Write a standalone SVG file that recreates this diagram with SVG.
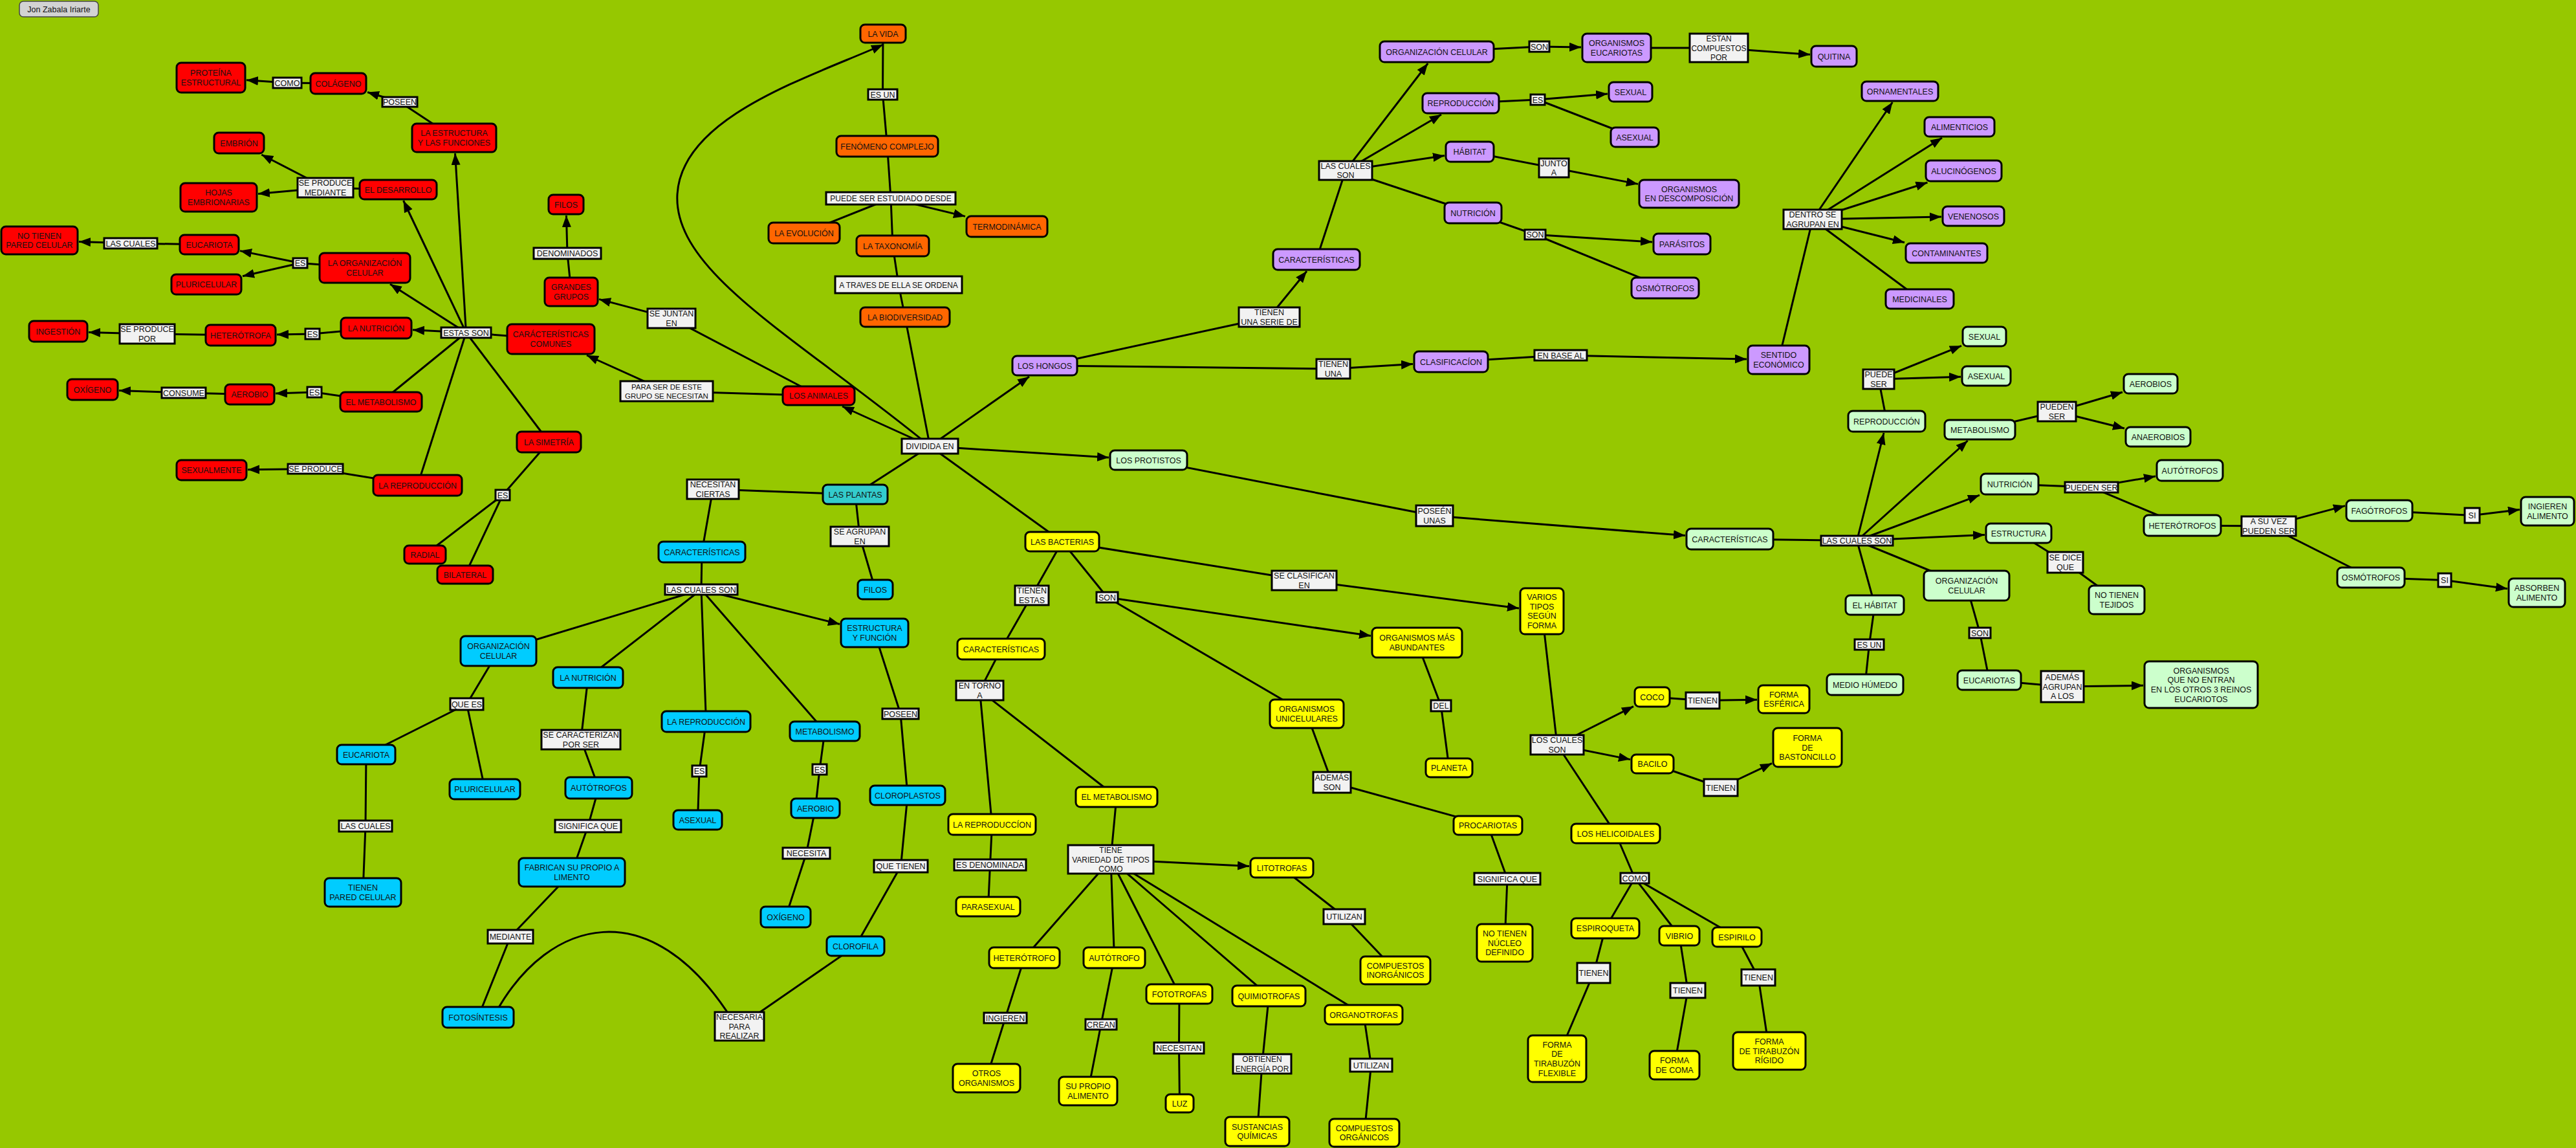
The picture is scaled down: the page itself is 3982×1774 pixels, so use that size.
<svg xmlns="http://www.w3.org/2000/svg" width="3982" height="1774" viewBox="0 0 3982 1774">
<style>
text{font-family:"Liberation Sans",Arial,sans-serif;font-size:12.5px;text-anchor:middle;fill:#111}
.n rect{rx:7px;ry:7px;stroke:#000;stroke-width:3}
.r rect{fill:#FF0000}
.o rect{fill:#FF6600}
.p rect{fill:#CC99FF}
.g rect{fill:#CCFFCC}
.t rect{fill:#33CCCC}
.b rect{fill:#00CCFF}
.y rect{fill:#FFFF00}
.l rect{fill:#F2F2F2;stroke:#000;stroke-width:3}
.a rect{fill:#D3D3D3;stroke:#444;stroke-width:1.5;rx:6px;ry:6px}
.e{fill:none;stroke:#000;stroke-width:3;stroke-linejoin:round}
.ea{fill:none;stroke:#000;stroke-width:3;stroke-linejoin:round;marker-end:url(#ah)}
.s12{font-size:12px}
.s11{font-size:11.5px}
</style>
<defs>
<marker id="ah" markerUnits="userSpaceOnUse" markerWidth="20" markerHeight="16" refX="18" refY="7" orient="auto"><path d="M0,0 L18,7 L0,14 z" fill="#000"/></marker>
</defs>
<rect x="0" y="0" width="3982" height="1774" fill="#96C800"/>

<g id="connectors">
<!-- animals -->
<path class="ea" d="M702,213 L618,157.5 L568,142.5"/>
<path class="ea" d="M523,129 L444,128 L381,123.7"/>
<path class="ea" d="M720.5,514 L703.5,237"/>
<path class="ea" d="M720.5,514 L623.6,310"/>
<path class="ea" d="M720.5,514 L603,439"/>
<path class="ea" d="M720.5,514 L638,509.8"/>
<path class="e" d="M851.5,524 L720.5,514"/>
<path class="e" d="M720.5,514 L589,621"/>
<path class="e" d="M720.5,514 L645.5,750"/>
<path class="e" d="M720.5,514 L848.5,683"/>
<path class="e" d="M848.5,683 L777,765 L657,857 M777,765 L719,888"/>
<path class="e" d="M615.5,293 L503,290"/>
<path class="ea" d="M503,290 L404.3,239"/>
<path class="ea" d="M503,290 L399,299.5"/>
<path class="e" d="M564,414 L464,406.5"/>
<path class="ea" d="M464,406.5 L371,387.6"/>
<path class="ea" d="M464,406.5 L375,426.8"/>
<path class="ea" d="M323.5,378 L202,376 L122,373.5"/>
<path class="ea" d="M581.5,507 L483,516 L428,517"/>
<path class="ea" d="M372,518 L227.5,516 L137,513.4"/>
<path class="ea" d="M589,621 L486,606 L426,608.1"/>
<path class="ea" d="M386,609.5 L284,607 L184,603.5"/>
<path class="ea" d="M645.5,750 L487.5,724.5 L383,725.8"/>
<path class="ea" d="M1265.5,611.5 L1030,604.5 L907,549"/>
<path class="ea" d="M1265.5,611.5 L1038,492 L926,462.4"/>
<path class="ea" d="M883,451 L877,391.5 L875.4,333"/>
<!-- life -->
<path class="e" d="M1365,52 L1364.5,146 L1371.5,226 L1377,306.5 L1380,380 L1389,440 L1399,490 L1437.5,689.5"/>
<path class="e" d="M1377,306.5 L1243,360"/>
<path class="ea" d="M1377,306.5 L1492,334.4"/>
<path class="ea" d="M1437,689 C1230,520 1040,420 1047,300 C1054,180 1250,120 1365,69"/>
<path class="ea" d="M1437.5,689.5 L1302,628"/>
<path class="ea" d="M1437.5,689.5 L1591,582"/>
<path class="ea" d="M1437.5,689.5 L1714,707.1"/>
<path class="e" d="M1437.5,689.5 L1322,764"/>
<path class="e" d="M1437.5,689.5 L1642,837"/>
<!-- fungi -->
<path class="ea" d="M1615,565 L1962,490 L2020,419"/>
<path class="ea" d="M1615,565 L2061,570 L2184,562.6"/>
<path class="ea" d="M2243,559 L2412.5,549 L2700,555"/>
<path class="e" d="M2749.5,556 L2802,339"/>
<path class="ea" d="M2802,339 L2925.4,158"/>
<path class="ea" d="M2802,339 L3002,213"/>
<path class="ea" d="M2802,339 L2979.5,282"/>
<path class="ea" d="M2802,339 L3001,335"/>
<path class="ea" d="M2802,339 L2944,374.7"/>
<path class="e" d="M2802,339 L2967.5,462"/>
<path class="e" d="M2035,401 L2080,263.5"/>
<path class="ea" d="M2080,263.5 L2207.2,98"/>
<path class="ea" d="M2080,263.5 L2228,177"/>
<path class="ea" d="M2080,263.5 L2233,240.4"/>
<path class="e" d="M2080,263.5 L2277,329"/>
<path class="ea" d="M2221,80 L2379.5,72 L2444,73"/>
<path class="ea" d="M2499,74 L2657,74 L2798,84.3"/>
<path class="ea" d="M2258,159.5 L2377,154 L2485,145"/>
<path class="e" d="M2377,154 L2527,212"/>
<path class="ea" d="M2272,234.5 L2402,259.5 L2532,284.4"/>
<path class="ea" d="M2277,329 L2373,362.5 L2554,374"/>
<path class="e" d="M2373,362.5 L2574,445"/>
<!-- protists -->
<path class="ea" d="M1775.5,711 L2217.5,797 L2605,827.6"/>
<path class="e" d="M2674,833 L2870.5,835.5"/>
<path class="ea" d="M2870.5,835.5 L2912,669"/>
<path class="e" d="M2916.5,651 L2904,586"/>
<path class="ea" d="M2904,586 L3032,534.3"/>
<path class="ea" d="M2904,586 L3031,582.2"/>
<path class="ea" d="M2870.5,835.5 L3041.7,681"/>
<path class="e" d="M3060.5,664 L3179.5,636"/>
<path class="ea" d="M3179.5,636 L3281,606"/>
<path class="ea" d="M3179.5,636 L3284,662"/>
<path class="ea" d="M2870.5,835.5 L3060,765.2"/>
<path class="e" d="M3106.5,748 L3233,753"/>
<path class="ea" d="M3233,753 L3332,736"/>
<path class="e" d="M3233,753 L3373.5,812"/>
<path class="e" d="M3373.5,812 L3507,813"/>
<path class="ea" d="M3507,813 L3625,781.6"/>
<path class="e" d="M3507,813 L3665,892.5"/>
<path class="ea" d="M3678,789 L3821.5,796.5 L3895,787.6"/>
<path class="ea" d="M3665,892.5 L3779,896.5 L3876,909.8"/>
<path class="ea" d="M2870.5,835.5 L3068,826.4"/>
<path class="e" d="M3120.5,824 L3192.5,869 L3272,927"/>
<path class="e" d="M2870.5,835.5 L3040,905"/>
<path class="e" d="M3040,905 L3060.5,978 L3075,1051"/>
<path class="ea" d="M3075,1051 L3188,1061 L3313,1059.3"/>
<path class="e" d="M2870.5,835.5 L2898,935 L2889.5,996 L2883,1058"/>
<!-- plants -->
<path class="e" d="M1322,764 L1102,756 L1085,853"/>
<path class="e" d="M1322,764 L1329,829 L1353,911"/>
<path class="e" d="M1085,853 L1084,911"/>
<path class="e" d="M1084,911 L770.5,1006 M1084,911 L909,1047 M1084,911 L1091.5,1115 M1084,911 L1275,1130"/>
<path class="ea" d="M1084,911 L1298,964.5"/>
<path class="e" d="M1352,978 L1392,1103 L1403,1229 L1392.5,1338.5 L1322.5,1462 L1143,1586"/>
<path class="e" d="M1132,1576 C1005,1375 848,1420 768,1562"/>
<path class="e" d="M909,1047 L898,1143 L925.5,1217.5 L909,1276.5 L884,1348 L789,1447.5 L739,1572"/>
<path class="e" d="M770.5,1006 L721.5,1088 L566,1166 L565,1276.5 L561,1379 M721.5,1088 L749.5,1219.5"/>
<path class="e" d="M1091.5,1115 L1081,1191.5 L1078.5,1267"/>
<path class="e" d="M1275,1130 L1267,1189 L1260.5,1249 L1246.5,1318.5 L1214.5,1417"/>
<!-- bacteria -->
<path class="e" d="M1642,837 L1595,920 L1547.5,1003 L1514.5,1067 L1533.5,1274 L1530.5,1336.5 L1527.5,1401"/>
<path class="e" d="M1514.5,1067 L1726,1231.5 L1717,1328"/>
<path class="ea" d="M1717,1328 L1931,1338.5"/>
<path class="e" d="M1717,1328 L1583.5,1480 L1554,1573 L1525,1666"/>
<path class="e" d="M1717,1328 L1722.5,1480 L1702,1583 L1682,1686"/>
<path class="e" d="M1717,1328 L1823,1536 L1822.5,1619.5 L1823.5,1705"/>
<path class="e" d="M1717,1328 L1961.5,1539 L1951,1644 L1943.5,1748.5"/>
<path class="e" d="M1717,1328 L2108,1568 L2119.5,1646 L2109,1750.5"/>
<path class="e" d="M1981.5,1341 L2078,1416.5 L2157,1499.5"/>
<path class="e" d="M1642,837 L1711.5,923"/>
<path class="ea" d="M1711.5,923 L2119,982.6"/>
<path class="e" d="M1711.5,923 L2020,1103 L2059,1209 L2300,1275.5 L2330,1358 L2326,1457"/>
<path class="e" d="M2190.5,993 L2227.5,1090.5 L2240,1186.5"/>
<path class="ea" d="M1642,837 L2016,897 L2348,940"/>
<path class="e" d="M2383.5,944.5 L2407,1151"/>
<path class="ea" d="M2407,1151 L2525,1091.6"/>
<path class="ea" d="M2554,1077 L2632,1082.5 L2716,1081.2"/>
<path class="ea" d="M2407,1151 L2520,1173.6"/>
<path class="ea" d="M2554.5,1180.5 L2660,1217 L2739,1179.6"/>
<path class="e" d="M2407,1151 L2497.5,1288 L2527,1357"/>
<path class="e" d="M2527,1357 L2481.5,1434.5 L2463.5,1503.5 L2407,1636"/>
<path class="e" d="M2527,1357 L2596,1446 L2609,1530.5 L2588.5,1646"/>
<path class="e" d="M2527,1357 L2685,1448 L2718,1510.5 L2735,1624"/>
</g>

<g id="author" class="a"><rect x="30" y="2" width="122" height="24"/><text x="91" y="18.6">Jon Zabala Iriarte</text></g>

<!-- red: animals -->
<g id="n_proteina" class="n r"><rect x="273" y="97" width="106" height="46"/><text x="326" y="117.3">PROTEÍNA<tspan x="326" dy="14.6">ESTRUCTURAL</tspan></text></g>
<g id="n_colageno" class="n r"><rect x="480" y="113" width="86" height="32"/><text x="523" y="133.6">COLÁGENO</text></g>
<g id="n_estructura" class="n r"><rect x="637" y="191" width="130" height="44"/><text x="702" y="210.3">LA ESTRUCTURA<tspan x="702" dy="14.6">Y LAS FUNCIONES</tspan></text></g>
<g id="n_embrion" class="n r"><rect x="331" y="205" width="77" height="32"/><text x="369.5" y="225.6">EMBRIÓN</text></g>
<g id="n_desarrollo" class="n r"><rect x="556" y="278" width="119" height="30"/><text x="615.5" y="297.6">EL DESARROLLO</text></g>
<g id="n_hojas" class="n r"><rect x="279" y="283" width="118" height="44"/><text x="338" y="302.3">HOJAS<tspan x="338" dy="14.6">EMBRIONARIAS</tspan></text></g>
<g id="n_nopared" class="n r"><rect x="2" y="350" width="118" height="43"/><text x="61" y="368.8">NO TIENEN<tspan x="61" dy="14.6">PARED CELULAR</tspan></text></g>
<g id="n_eucariota_a" class="n r"><rect x="278" y="363" width="91" height="30"/><text x="323.5" y="382.6">EUCARIOTA</text></g>
<g id="n_orgcel_a" class="n r"><rect x="494" y="391" width="140" height="46"/><text x="564" y="411.3">LA ORGANIZACIÓN<tspan x="564" dy="14.6">CELULAR</tspan></text></g>
<g id="n_pluri_a" class="n r"><rect x="265" y="424" width="108" height="31"/><text x="319" y="444.1">PLURICELULAR</text></g>
<g id="n_filos_a" class="n r"><rect x="848" y="301" width="54" height="30"/><text x="875" y="320.6">FILOS</text></g>
<g id="n_grandes" class="n r"><rect x="842" y="429" width="82" height="44"/><text x="883" y="448.3">GRANDES<tspan x="883" dy="14.6">GRUPOS</tspan></text></g>
<g id="n_ingestion" class="n r"><rect x="45" y="496" width="90" height="32"/><text x="90" y="516.6">INGESTIÓN</text></g>
<g id="n_heterotrofa" class="n r"><rect x="318" y="502" width="108" height="32"/><text x="372" y="522.6">HETERÓTROFA</text></g>
<g id="n_nutricion_a" class="n r"><rect x="527" y="491" width="109" height="32"/><text x="581.5" y="511.6">LA NUTRICIÓN</text></g>
<g id="n_caractcom" class="n r"><rect x="784" y="501" width="135" height="46"/><text x="851.5" y="521.3">CARÁCTERÍSTICAS<tspan x="851.5" dy="14.6">COMUNES</tspan></text></g>
<g id="n_oxigeno_a" class="n r"><rect x="104" y="586" width="78" height="32"/><text x="143" y="606.6">OXÍGENO</text></g>
<g id="n_aerobio_a" class="n r"><rect x="348" y="594" width="76" height="31"/><text x="386" y="614.1">AEROBIO</text></g>
<g id="n_metab_a" class="n r"><rect x="526" y="606" width="126" height="30"/><text x="589" y="625.6">EL METABOLISMO</text></g>
<g id="n_simetria" class="n r"><rect x="799" y="667" width="99" height="32"/><text x="848.5" y="687.6">LA SIMETRÍA</text></g>
<g id="n_sexualmente" class="n r"><rect x="273" y="711" width="108" height="31"/><text x="327" y="731.1">SEXUALMENTE</text></g>
<g id="n_repro_a" class="n r"><rect x="577" y="734" width="137" height="32"/><text x="645.5" y="754.6">LA REPRODUCCIÓN</text></g>
<g id="n_radial" class="n r"><rect x="625" y="843" width="64" height="28"/><text x="657" y="861.6">RADIAL</text></g>
<g id="n_bilateral" class="n r"><rect x="676" y="874" width="86" height="28"/><text x="719" y="892.6">BILATERAL</text></g>
<g id="n_animales" class="n r"><rect x="1210" y="597" width="111" height="29"/><text x="1265.5" y="616.1">LOS ANIMALES</text></g>

<!-- orange -->
<g id="n_vida" class="n o"><rect x="1330" y="38" width="70" height="28"/><text x="1365" y="56.6">LA VIDA</text></g>
<g id="n_fenomeno" class="n o"><rect x="1293" y="210" width="157" height="32"/><text x="1371.5" y="230.6">FENÓMENO COMPLEJO</text></g>
<g id="n_evolucion" class="n o"><rect x="1188" y="344" width="110" height="32"/><text x="1243" y="364.6">LA EVOLUCIÓN</text></g>
<g id="n_termo" class="n o"><rect x="1494" y="334" width="125" height="32"/><text x="1556.5" y="354.6">TERMODINÁMICA</text></g>
<g id="n_taxonomia" class="n o"><rect x="1324" y="364" width="112" height="32"/><text x="1380" y="384.6">LA TAXONOMÍA</text></g>
<g id="n_biodiv" class="n o"><rect x="1330" y="475" width="138" height="30"/><text x="1399" y="494.6">LA BIODIVERSIDAD</text></g>

<!-- purple: fungi -->
<g id="n_hongos" class="n p"><rect x="1565" y="550" width="100" height="30"/><text x="1615" y="569.6">LOS HONGOS</text></g>
<g id="n_caract_h" class="n p"><rect x="1968" y="385" width="134" height="32"/><text x="2035" y="405.6">CARACTERÍSTICAS</text></g>
<g id="n_orgcel_h" class="n p"><rect x="2133" y="64" width="176" height="32"/><text x="2221" y="84.6">ORGANIZACIÓN CELULAR</text></g>
<g id="n_orgeuc_h" class="n p"><rect x="2446" y="52" width="106" height="44"/><text x="2499" y="71.3">ORGANISMOS<tspan x="2499" dy="14.6">EUCARIOTAS</tspan></text></g>
<g id="n_quitina" class="n p"><rect x="2800" y="71" width="70" height="32"/><text x="2835" y="91.6">QUITINA</text></g>
<g id="n_repro_h" class="n p"><rect x="2199" y="144" width="118" height="31"/><text x="2258" y="164.1">REPRODUCCIÓN</text></g>
<g id="n_sexual_h" class="n p"><rect x="2487" y="127" width="67" height="30"/><text x="2520.5" y="146.6">SEXUAL</text></g>
<g id="n_asexual_h" class="n p"><rect x="2490" y="197" width="74" height="30"/><text x="2527" y="216.6">ASEXUAL</text></g>
<g id="n_habitat_h" class="n p"><rect x="2235" y="219" width="74" height="31"/><text x="2272" y="239.1">HÁBITAT</text></g>
<g id="n_descomp" class="n p"><rect x="2534" y="278" width="154" height="43"/><text x="2611" y="296.8">ORGANISMOS<tspan x="2611" dy="14.6">EN DESCOMPOSICIÓN</tspan></text></g>
<g id="n_nutri_h" class="n p"><rect x="2233" y="313" width="88" height="32"/><text x="2277" y="333.6">NUTRICIÓN</text></g>
<g id="n_parasitos" class="n p"><rect x="2556" y="361" width="88" height="32"/><text x="2600" y="381.6">PARÁSITOS</text></g>
<g id="n_osmo_h" class="n p"><rect x="2522" y="429" width="104" height="32"/><text x="2574" y="449.6">OSMÓTROFOS</text></g>
<g id="n_ornam" class="n p"><rect x="2878" y="126" width="118" height="30"/><text x="2937" y="145.6">ORNAMENTALES</text></g>
<g id="n_alimen" class="n p"><rect x="2975" y="181" width="108" height="30"/><text x="3029" y="200.6">ALIMENTICIOS</text></g>
<g id="n_aluci" class="n p"><rect x="2977" y="248" width="117" height="32"/><text x="3035.5" y="268.6">ALUCINÓGENOS</text></g>
<g id="n_veneno" class="n p"><rect x="3003" y="319" width="95" height="30"/><text x="3050.5" y="338.6">VENENOSOS</text></g>
<g id="n_contam" class="n p"><rect x="2946" y="376" width="126" height="30"/><text x="3009" y="395.6">CONTAMINANTES</text></g>
<g id="n_medic" class="n p"><rect x="2915" y="447" width="105" height="30"/><text x="2967.5" y="466.6">MEDICINALES</text></g>
<g id="n_clasif" class="n p"><rect x="2186" y="543" width="114" height="32"/><text x="2243" y="563.6">CLASIFICACÍON</text></g>
<g id="n_sentido" class="n p"><rect x="2702" y="534" width="95" height="44"/><text x="2749.5" y="553.3">SENTIDO<tspan x="2749.5" dy="14.6">ECONÓMICO</tspan></text></g>

<!-- light green: protists -->
<g id="n_protistos" class="n g"><rect x="1716" y="696" width="119" height="30"/><text x="1775.5" y="715.6">LOS PROTISTOS</text></g>
<g id="n_sexual_p" class="n g"><rect x="3034" y="505" width="67" height="30"/><text x="3067.5" y="524.6">SEXUAL</text></g>
<g id="n_asexual_p" class="n g"><rect x="3033" y="566" width="75" height="30"/><text x="3070.5" y="585.6">ASEXUAL</text></g>
<g id="n_repro_p" class="n g"><rect x="2857" y="635" width="119" height="32"/><text x="2916.5" y="655.6">REPRODUCCIÓN</text></g>
<g id="n_aerobios" class="n g"><rect x="3283" y="578" width="83" height="30"/><text x="3324.5" y="597.6">AEROBIOS</text></g>
<g id="n_metab_p" class="n g"><rect x="3006" y="649" width="109" height="30"/><text x="3060.5" y="668.6">METABOLISMO</text></g>
<g id="n_anaerobios" class="n g"><rect x="3286" y="660" width="100" height="30"/><text x="3336" y="679.6">ANAEROBIOS</text></g>
<g id="n_autotrofos_p" class="n g"><rect x="3334" y="711" width="102" height="32"/><text x="3385" y="731.6">AUTÓTROFOS</text></g>
<g id="n_nutri_p" class="n g"><rect x="3062" y="732" width="89" height="32"/><text x="3106.5" y="752.6">NUTRICIÓN</text></g>
<g id="n_hetero_p" class="n g"><rect x="3314" y="796" width="119" height="32"/><text x="3373.5" y="816.6">HETERÓTROFOS</text></g>
<g id="n_fago" class="n g"><rect x="3627" y="773" width="102" height="32"/><text x="3678" y="793.6">FAGÓTROFOS</text></g>
<g id="n_ingieren" class="n g"><rect x="3897" y="768" width="82" height="44"/><text x="3938" y="787.3">INGIEREN<tspan x="3938" dy="14.6">ALIMENTO</tspan></text></g>
<g id="n_caract_p" class="n g"><rect x="2607" y="817" width="134" height="32"/><text x="2674" y="837.6">CARACTERÍSTICAS</text></g>
<g id="n_estruct_p" class="n g"><rect x="3070" y="809" width="101" height="30"/><text x="3120.5" y="828.6">ESTRUCTURA</text></g>
<g id="n_osmo_p" class="n g"><rect x="3613" y="877" width="104" height="31"/><text x="3665" y="897.1">OSMÓTROFOS</text></g>
<g id="n_absorben" class="n g"><rect x="3878" y="894" width="87" height="44"/><text x="3921.5" y="913.3">ABSORBEN<tspan x="3921.5" dy="14.6">ALIMENTO</tspan></text></g>
<g id="n_orgcel_p" class="n g"><rect x="2974" y="882" width="132" height="46"/><text x="3040" y="902.3">ORGANIZACIÓN<tspan x="3040" dy="14.6">CELULAR</tspan></text></g>
<g id="n_tejidos" class="n g"><rect x="3229" y="905" width="86" height="44"/><text x="3272" y="924.3">NO TIENEN<tspan x="3272" dy="14.6">TEJIDOS</tspan></text></g>
<g id="n_habitat_p" class="n g"><rect x="2853" y="920" width="90" height="30"/><text x="2898" y="939.6">EL HÁBITAT</text></g>
<g id="n_humedo" class="n g"><rect x="2824" y="1042" width="118" height="32"/><text x="2883" y="1062.6">MEDIO HÚMEDO</text></g>
<g id="n_eucariotas_p" class="n g"><rect x="3026" y="1036" width="98" height="30"/><text x="3075" y="1055.6">EUCARIOTAS</text></g>
<g id="n_noentran" class="n g"><rect x="3315" y="1022" width="175" height="72"/><text x="3402.5" y="1040.7">ORGANISMOS<tspan x="3402.5" dy="14.6">QUE NO ENTRAN</tspan><tspan x="3402.5" dy="14.6">EN LOS OTROS 3 REINOS</tspan><tspan x="3402.5" dy="14.6">EUCARIOTOS</tspan></text></g>

<!-- plants -->
<g id="n_plantas" class="n t"><rect x="1272" y="749" width="100" height="30"/><text x="1322" y="768.6">LAS PLANTAS</text></g>
<g id="n_caract_v" class="n b"><rect x="1018" y="837" width="134" height="32"/><text x="1085" y="857.6">CARACTERÍSTICAS</text></g>
<g id="n_filos_v" class="n b"><rect x="1326" y="896" width="54" height="30"/><text x="1353" y="915.6">FILOS</text></g>
<g id="n_estfun" class="n b"><rect x="1300" y="956" width="104" height="44"/><text x="1352" y="975.3">ESTRUCTURA<tspan x="1352" dy="14.6">Y FUNCIÓN</tspan></text></g>
<g id="n_orgcel_v" class="n b"><rect x="712" y="983" width="117" height="46"/><text x="770.5" y="1003.3">ORGANIZACIÓN<tspan x="770.5" dy="14.6">CELULAR</tspan></text></g>
<g id="n_nutri_v" class="n b"><rect x="855" y="1031" width="108" height="32"/><text x="909" y="1051.6">LA NUTRICIÓN</text></g>
<g id="n_repro_v" class="n b"><rect x="1023" y="1099" width="137" height="32"/><text x="1091.5" y="1119.6">LA REPRODUCCIÓN</text></g>
<g id="n_metab_v" class="n b"><rect x="1221" y="1115" width="108" height="30"/><text x="1275" y="1134.6">METABOLISMO</text></g>
<g id="n_eucariota_v" class="n b"><rect x="521" y="1151" width="90" height="30"/><text x="566" y="1170.6">EUCARIOTA</text></g>
<g id="n_pluri_v" class="n b"><rect x="695" y="1204" width="109" height="31"/><text x="749.5" y="1224.1">PLURICELULAR</text></g>
<g id="n_autotrofos_v" class="n b"><rect x="874" y="1201" width="103" height="33"/><text x="925.5" y="1222.1">AUTÓTROFOS</text></g>
<g id="n_asexual_v" class="n b"><rect x="1041" y="1252" width="75" height="30"/><text x="1078.5" y="1271.6">ASEXUAL</text></g>
<g id="n_aerobio_v" class="n b"><rect x="1223" y="1234" width="75" height="30"/><text x="1260.5" y="1253.6">AEROBIO</text></g>
<g id="n_cloroplastos" class="n b"><rect x="1345" y="1214" width="116" height="30"/><text x="1403" y="1233.6">CLOROPLASTOS</text></g>
<g id="n_fabrican" class="n b"><rect x="802" y="1326" width="164" height="44"/><text x="884" y="1345.3">FABRICAN SU PROPIO A<tspan x="884" dy="14.6">LIMENTO</tspan></text></g>
<g id="n_pared_v" class="n b"><rect x="502" y="1357" width="118" height="44"/><text x="561" y="1376.3">TIENEN<tspan x="561" dy="14.6">PARED CELULAR</tspan></text></g>
<g id="n_oxigeno_v" class="n b"><rect x="1176" y="1401" width="77" height="32"/><text x="1214.5" y="1421.6">OXÍGENO</text></g>
<g id="n_clorofila" class="n b"><rect x="1278" y="1447" width="89" height="30"/><text x="1322.5" y="1466.6">CLOROFILA</text></g>
<g id="n_fotosintesis" class="n b"><rect x="684" y="1556" width="110" height="32"/><text x="739" y="1576.6">FOTOSÍNTESIS</text></g>

<!-- yellow: bacteria -->
<g id="n_bacterias" class="n y"><rect x="1585" y="822" width="114" height="30"/><text x="1642" y="841.6">LAS BACTERIAS</text></g>
<g id="n_caract_y" class="n y"><rect x="1480" y="987" width="135" height="32"/><text x="1547.5" y="1007.6">CARACTERÍSTICAS</text></g>
<g id="n_unicel" class="n y"><rect x="1963" y="1081" width="114" height="44"/><text x="2020" y="1100.3">ORGANISMOS<tspan x="2020" dy="14.6">UNICELULARES</tspan></text></g>
<g id="n_repro_y" class="n y"><rect x="1466" y="1258" width="135" height="32"/><text x="1533.5" y="1278.6">LA REPRODUCCÍON</text></g>
<g id="n_metab_y" class="n y"><rect x="1663" y="1216" width="126" height="31"/><text x="1726" y="1236.1">EL METABOLISMO</text></g>
<g id="n_litotrofas" class="n y"><rect x="1933" y="1326" width="97" height="30"/><text x="1981.5" y="1345.6">LITOTROFAS</text></g>
<g id="n_parasexual" class="n y"><rect x="1478" y="1386" width="99" height="30"/><text x="1527.5" y="1405.6">PARASEXUAL</text></g>
<g id="n_hetero_y" class="n y"><rect x="1529" y="1464" width="109" height="32"/><text x="1583.5" y="1484.6">HETERÓTROFO</text></g>
<g id="n_auto_y" class="n y"><rect x="1675" y="1464" width="95" height="32"/><text x="1722.5" y="1484.6">AUTÓTROFO</text></g>
<g id="n_foto_y" class="n y"><rect x="1772" y="1521" width="102" height="30"/><text x="1823" y="1540.6">FOTOTROFAS</text></g>
<g id="n_quimio" class="n y"><rect x="1905" y="1523" width="113" height="32"/><text x="1961.5" y="1543.6">QUIMIOTROFAS</text></g>
<g id="n_otros" class="n y"><rect x="1473" y="1644" width="104" height="44"/><text x="1525" y="1663.3">OTROS<tspan x="1525" dy="14.6">ORGANISMOS</tspan></text></g>
<g id="n_supropio" class="n y"><rect x="1637" y="1664" width="90" height="44"/><text x="1682" y="1683.3">SU PROPIO<tspan x="1682" dy="14.6">ALIMENTO</tspan></text></g>
<g id="n_luz" class="n y"><rect x="1802" y="1691" width="43" height="28"/><text x="1823.5" y="1709.6">LUZ</text></g>
<g id="n_sustancias" class="n y"><rect x="1894" y="1726" width="99" height="45"/><text x="1943.5" y="1745.8">SUSTANCIAS<tspan x="1943.5" dy="14.6">QUÍMICAS</tspan></text></g>
<g id="n_varios" class="n y"><rect x="2350" y="909" width="67" height="71"/><text x="2383.5" y="927.2">VARIOS<tspan x="2383.5" dy="14.6">TIPOS</tspan><tspan x="2383.5" dy="14.6">SEGÚN</tspan><tspan x="2383.5" dy="14.6">FORMA</tspan></text></g>
<g id="n_abundantes" class="n y"><rect x="2121" y="970" width="139" height="46"/><text x="2190.5" y="990.3">ORGANISMOS MÁS<tspan x="2190.5" dy="14.6">ABUNDANTES</tspan></text></g>
<g id="n_coco" class="n y"><rect x="2527" y="1062" width="54" height="30"/><text x="2554" y="1081.6">COCO</text></g>
<g id="n_esferica" class="n y"><rect x="2718" y="1059" width="79" height="43"/><text x="2757.5" y="1077.8">FORMA<tspan x="2757.5" dy="14.6">ESFÉRICA</tspan></text></g>
<g id="n_bastoncillo" class="n y"><rect x="2741" y="1125" width="106" height="60"/><text x="2794" y="1145">FORMA<tspan x="2794" dy="14.6">DE</tspan><tspan x="2794" dy="14.6">BASTONCILLO</tspan></text></g>
<g id="n_bacilo" class="n y"><rect x="2522" y="1166" width="65" height="29"/><text x="2554.5" y="1185.1">BACILO</text></g>
<g id="n_planeta" class="n y"><rect x="2204" y="1172" width="72" height="29"/><text x="2240" y="1191.1">PLANETA</text></g>
<g id="n_procariotas" class="n y"><rect x="2247" y="1261" width="106" height="29"/><text x="2300" y="1280.1">PROCARIOTAS</text></g>
<g id="n_helicoidales" class="n y"><rect x="2429" y="1273" width="137" height="30"/><text x="2497.5" y="1292.6">LOS HELICOIDALES</text></g>
<g id="n_inorganicos" class="n y"><rect x="2103" y="1478" width="108" height="43"/><text x="2157" y="1496.8">COMPUESTOS<tspan x="2157" dy="14.6">INORGÁNICOS</tspan></text></g>
<g id="n_espiroqueta" class="n y"><rect x="2429" y="1419" width="105" height="31"/><text x="2481.5" y="1439.1">ESPIROQUETA</text></g>
<g id="n_vibrio" class="n y"><rect x="2565" y="1431" width="62" height="30"/><text x="2596" y="1450.6">VIBRIO</text></g>
<g id="n_espirilo" class="n y"><rect x="2647" y="1433" width="76" height="30"/><text x="2685" y="1452.6">ESPIRILO</text></g>
<g id="n_nucleo" class="n y"><rect x="2283" y="1428" width="86" height="58"/><text x="2326" y="1447">NO TIENEN<tspan x="2326" dy="14.6">NÚCLEO</tspan><tspan x="2326" dy="14.6">DEFINIDO</tspan></text></g>
<g id="n_organotrofas" class="n y"><rect x="2048" y="1553" width="120" height="30"/><text x="2108" y="1572.6">ORGANOTROFAS</text></g>
<g id="n_flexible" class="n y"><rect x="2362" y="1600" width="90" height="72"/><text x="2407" y="1618.7">FORMA<tspan x="2407" dy="14.6">DE</tspan><tspan x="2407" dy="14.6">TIRABUZÓN</tspan><tspan x="2407" dy="14.6">FLEXIBLE</tspan></text></g>
<g id="n_coma" class="n y"><rect x="2550" y="1624" width="77" height="44"/><text x="2588.5" y="1643.3">FORMA<tspan x="2588.5" dy="14.6">DE COMA</tspan></text></g>
<g id="n_rigido" class="n y"><rect x="2679" y="1595" width="112" height="58"/><text x="2735" y="1614">FORMA<tspan x="2735" dy="14.6">DE TIRABUZÓN</tspan><tspan x="2735" dy="14.6">RÍGIDO</tspan></text></g>
<g id="n_organicos" class="n y"><rect x="2055" y="1729" width="108" height="43"/><text x="2109" y="1747.8">COMPUESTOS<tspan x="2109" dy="14.6">ORGÁNICOS</tspan></text></g>

<!-- linking phrases -->
<g id="l_como1" class="l"><rect x="422" y="120" width="44" height="16"/><text x="444" y="132.6">COMO</text></g>
<g id="l_poseen1" class="l"><rect x="591" y="150" width="54" height="15"/><text x="618" y="162.1">POSEEN</text></g>
<g id="l_seprodmed" class="l"><rect x="460" y="275" width="86" height="30"/><text x="503" y="287.3">SE PRODUCE<tspan x="503" dy="14.6">MEDIANTE</tspan></text></g>
<g id="l_lascuales1" class="l"><rect x="161" y="368" width="82" height="16"/><text x="202" y="380.6">LAS CUALES</text></g>
<g id="l_es1" class="l"><rect x="453" y="399" width="22" height="15"/><text x="464" y="411.1">ES</text></g>
<g id="l_denominados" class="l"><rect x="825" y="383" width="104" height="17"/><text x="877" y="396.1">DENOMINADOS</text></g>
<g id="l_seprodpor" class="l"><rect x="185" y="501" width="85" height="30"/><text x="227.5" y="513.3">SE PRODUCE<tspan x="227.5" dy="14.6">POR</tspan></text></g>
<g id="l_es2" class="l"><rect x="472" y="508" width="22" height="16"/><text x="483" y="520.6">ES</text></g>
<g id="l_estasson" class="l"><rect x="682" y="506" width="77" height="16"/><text x="720.5" y="518.6">ESTAS SON</text></g>
<g id="l_consume" class="l"><rect x="250" y="599" width="68" height="16"/><text x="284" y="611.6">CONSUME</text></g>
<g id="l_es3" class="l"><rect x="475" y="598" width="22" height="16"/><text x="486" y="610.6">ES</text></g>
<g id="l_seproduce" class="l"><rect x="445" y="717" width="85" height="15"/><text x="487.5" y="729.1">SE PRODUCE</text></g>
<g id="l_es4" class="l"><rect x="766" y="757" width="22" height="16"/><text x="777" y="769.6">ES</text></g>
<g id="l_paraser" class="l"><rect x="959" y="589" width="143" height="31"/><text class="s11" x="1030.5" y="601.8">PARA SER DE ESTE<tspan x="1030.5" dy="14.6">GRUPO SE NECESITAN</tspan></text></g>
<g id="l_sejuntan" class="l"><rect x="1001" y="477" width="74" height="30"/><text x="1038" y="489.3">SE JUNTAN<tspan x="1038" dy="14.6">EN</tspan></text></g>
<g id="l_esun1" class="l"><rect x="1342" y="138" width="45" height="16"/><text x="1364.5" y="150.6">ES UN</text></g>
<g id="l_puedeser" class="l"><rect x="1277" y="297" width="200" height="19"/><text class="s12" x="1377" y="311.1">PUEDE SER ESTUDIADO DESDE</text></g>
<g id="l_atraves" class="l"><rect x="1291" y="427" width="196" height="26"/><text class="s12" x="1389" y="444.6">A TRAVES DE ELLA SE ORDENA</text></g>
<g id="l_dividida" class="l"><rect x="1394" y="678" width="87" height="23"/><text x="1437.5" y="694.1">DIVIDIDA EN</text></g>
<g id="l_tienenserie" class="l"><rect x="1915" y="475" width="94" height="30"/><text x="1962" y="487.3">TIENEN<tspan x="1962" dy="14.6">UNA SERIE DE</tspan></text></g>
<g id="l_lascualesson_h" class="l"><rect x="2039" y="249" width="82" height="29"/><text x="2080" y="260.8">LAS CUALES<tspan x="2080" dy="14.6">SON</tspan></text></g>
<g id="l_son1" class="l"><rect x="2364" y="64" width="31" height="16"/><text x="2379.5" y="76.6">SON</text></g>
<g id="l_estan" class="l"><rect x="2612" y="52" width="90" height="44"/><text class="s12" x="2657" y="64">ESTAN<tspan x="2657" dy="14.6">COMPUESTOS</tspan><tspan x="2657" dy="14.6">POR</tspan></text></g>
<g id="l_es5" class="l"><rect x="2366" y="146" width="22" height="16"/><text x="2377" y="158.6">ES</text></g>
<g id="l_junto" class="l"><rect x="2379" y="245" width="46" height="29"/><text x="2402" y="256.8">JUNTO<tspan x="2402" dy="14.6">A</tspan></text></g>
<g id="l_son2" class="l"><rect x="2357" y="355" width="32" height="15"/><text x="2373" y="367.1">SON</text></g>
<g id="l_dentro" class="l"><rect x="2757" y="324" width="90" height="30"/><text x="2802" y="336.3">DENTRO SE<tspan x="2802" dy="14.6">AGRUPAN EN</tspan></text></g>
<g id="l_tienenuna" class="l"><rect x="2035" y="555" width="52" height="30"/><text x="2061" y="567.3">TIENEN<tspan x="2061" dy="14.6">UNA</tspan></text></g>
<g id="l_enbase" class="l"><rect x="2372" y="541" width="81" height="16"/><text x="2412.5" y="553.6">EN BASE AL</text></g>
<g id="l_puedeser_p" class="l"><rect x="2880" y="571" width="48" height="30"/><text x="2904" y="583.3">PUEDE<tspan x="2904" dy="14.6">SER</tspan></text></g>
<g id="l_puedenser1" class="l"><rect x="3150" y="621" width="59" height="30"/><text x="3179.5" y="633.3">PUEDEN<tspan x="3179.5" dy="14.6">SER</tspan></text></g>
<g id="l_puedenser2" class="l"><rect x="3192" y="745" width="82" height="16"/><text x="3233" y="757.6">PUEDEN SER</text></g>
<g id="l_asuvez" class="l"><rect x="3465" y="798" width="84" height="30"/><text x="3507" y="810.3">A SU VEZ<tspan x="3507" dy="14.6">PUEDEN SER</tspan></text></g>
<g id="l_si1" class="l"><rect x="3810" y="785" width="23" height="23"/><text x="3821.5" y="801.1">SI</text></g>
<g id="l_si2" class="l"><rect x="3769" y="886" width="20" height="21"/><text x="3779" y="901.1">SI</text></g>
<g id="l_sedice" class="l"><rect x="3165" y="853" width="55" height="32"/><text x="3192.5" y="866.3">SE DICE<tspan x="3192.5" dy="14.6">QUE</tspan></text></g>
<g id="l_son3" class="l"><rect x="3044" y="970" width="33" height="16"/><text x="3060.5" y="982.6">SON</text></g>
<g id="l_ademas_agrupan" class="l"><rect x="3155" y="1037" width="66" height="48"/><text x="3188" y="1051">ADEMÁS<tspan x="3188" dy="14.6">AGRUPAN</tspan><tspan x="3188" dy="14.6">A LOS</tspan></text></g>
<g id="l_lascualesson_p" class="l"><rect x="2815" y="828" width="111" height="15"/><text x="2870.5" y="840.1">LAS CUALES SON</text></g>
<g id="l_poseenunas" class="l"><rect x="2189" y="781" width="57" height="32"/><text x="2217.5" y="794.3">POSEÉN<tspan x="2217.5" dy="14.6">UNAS</tspan></text></g>
<g id="l_esun2" class="l"><rect x="2867" y="988" width="45" height="16"/><text x="2889.5" y="1000.6">ES UN</text></g>
<g id="l_necesitan1" class="l"><rect x="1062" y="741" width="80" height="30"/><text x="1102" y="753.3">NECESITAN<tspan x="1102" dy="14.6">CIERTAS</tspan></text></g>
<g id="l_seagrupan" class="l"><rect x="1284" y="814" width="90" height="30"/><text x="1329" y="826.3">SE AGRUPAN<tspan x="1329" dy="14.6">EN</tspan></text></g>
<g id="l_lascualesson_v" class="l"><rect x="1028" y="903" width="112" height="16"/><text x="1084" y="915.6">LAS CUALES SON</text></g>
<g id="l_tienenestas" class="l"><rect x="1569" y="905" width="52" height="30"/><text x="1595" y="917.3">TIENEN<tspan x="1595" dy="14.6">ESTAS</tspan></text></g>
<g id="l_son4" class="l"><rect x="1695" y="915" width="33" height="16"/><text x="1711.5" y="927.6">SON</text></g>
<g id="l_seclasifican" class="l"><rect x="1966" y="882" width="100" height="30"/><text x="2016" y="894.3">SE CLASIFICAN<tspan x="2016" dy="14.6">EN</tspan></text></g>
<g id="l_entorno" class="l"><rect x="1478" y="1052" width="73" height="30"/><text x="1514.5" y="1064.3">EN TORNO<tspan x="1514.5" dy="14.6">A</tspan></text></g>
<g id="l_poseen2" class="l"><rect x="1364" y="1095" width="56" height="16"/><text x="1392" y="1107.6">POSEEN</text></g>
<g id="l_es6" class="l"><rect x="1070" y="1183" width="22" height="17"/><text x="1081" y="1196.1">ES</text></g>
<g id="l_es7" class="l"><rect x="1256" y="1181" width="22" height="16"/><text x="1267" y="1193.6">ES</text></g>
<g id="l_quees" class="l"><rect x="696" y="1079" width="51" height="18"/><text x="721.5" y="1092.6">QUE ES</text></g>
<g id="l_secaracterizan" class="l"><rect x="837" y="1128" width="122" height="30"/><text x="898" y="1140.3">SE CARACTERIZAN<tspan x="898" dy="14.6">POR SER</tspan></text></g>
<g id="l_lascuales2" class="l"><rect x="524" y="1268" width="82" height="17"/><text x="565" y="1281.1">LAS CUALES</text></g>
<g id="l_significa1" class="l"><rect x="858" y="1267" width="102" height="19"/><text x="909" y="1281.1">SIGNIFICA QUE</text></g>
<g id="l_mediante" class="l"><rect x="754" y="1437" width="70" height="21"/><text x="789" y="1452.1">MEDIANTE</text></g>
<g id="l_necesita" class="l"><rect x="1210" y="1310" width="73" height="17"/><text x="1246.5" y="1323.1">NECESITA</text></g>
<g id="l_quetienen" class="l"><rect x="1351" y="1329" width="83" height="19"/><text x="1392.5" y="1343.1">QUE TIENEN</text></g>
<g id="l_esdenominada" class="l"><rect x="1475" y="1328" width="111" height="17"/><text x="1530.5" y="1341.1">ES DENOMINADA</text></g>
<g id="l_tienevariedad" class="l"><rect x="1651" y="1306" width="132" height="44"/><text class="s12" x="1717" y="1318">TIENE<tspan x="1717" dy="14.6">VARIEDAD DE TIPOS</tspan><tspan x="1717" dy="14.6">COMO</tspan></text></g>
<g id="l_necesaria" class="l"><rect x="1105" y="1564" width="76" height="44"/><text x="1143" y="1576">NECESARIA<tspan x="1143" dy="14.6">PARA</tspan><tspan x="1143" dy="14.6">REALIZAR</tspan></text></g>
<g id="l_ingieren" class="l"><rect x="1521" y="1565" width="66" height="16"/><text x="1554" y="1577.6">INGIEREN</text></g>
<g id="l_crean" class="l"><rect x="1678" y="1575" width="48" height="16"/><text x="1702" y="1587.6">CREAN</text></g>
<g id="l_necesitan2" class="l"><rect x="1784" y="1611" width="77" height="17"/><text x="1822.5" y="1624.1">NECESITAN</text></g>
<g id="l_obtienen" class="l"><rect x="1906" y="1629" width="90" height="30"/><text class="s12" x="1951" y="1641.3">OBTIENEN<tspan x="1951" dy="14.6">ENERGÍA POR</tspan></text></g>
<g id="l_del" class="l"><rect x="2212" y="1082" width="31" height="17"/><text x="2227.5" y="1095.1">DEL</text></g>
<g id="l_loscuales" class="l"><rect x="2366" y="1136" width="82" height="30"/><text x="2407" y="1148.3">LOS CUALES<tspan x="2407" dy="14.6">SON</tspan></text></g>
<g id="l_tienen1" class="l"><rect x="2606" y="1070" width="52" height="25"/><text x="2632" y="1087.1">TIENEN</text></g>
<g id="l_tienen2" class="l"><rect x="2634" y="1204" width="52" height="26"/><text x="2660" y="1221.6">TIENEN</text></g>
<g id="l_ademasson" class="l"><rect x="2030" y="1193" width="58" height="32"/><text x="2059" y="1206.3">ADEMÁS<tspan x="2059" dy="14.6">SON</tspan></text></g>
<g id="l_significa2" class="l"><rect x="2279" y="1349" width="102" height="18"/><text x="2330" y="1362.6">SIGNIFICA QUE</text></g>
<g id="l_como2" class="l"><rect x="2505" y="1349" width="44" height="16"/><text x="2527" y="1361.6">COMO</text></g>
<g id="l_utilizan1" class="l"><rect x="2046" y="1405" width="64" height="23"/><text x="2078" y="1421.1">UTILIZAN</text></g>
<g id="l_tienen3" class="l"><rect x="2438" y="1488" width="51" height="31"/><text x="2463.5" y="1508.1">TIENEN</text></g>
<g id="l_tienen4" class="l"><rect x="2692" y="1498" width="52" height="25"/><text x="2718" y="1515.1">TIENEN</text></g>
<g id="l_tienen5" class="l"><rect x="2582" y="1519" width="54" height="23"/><text x="2609" y="1535.1">TIENEN</text></g>
<g id="l_utilizan2" class="l"><rect x="2087" y="1636" width="65" height="20"/><text x="2119.5" y="1650.6">UTILIZAN</text></g>
</svg>
